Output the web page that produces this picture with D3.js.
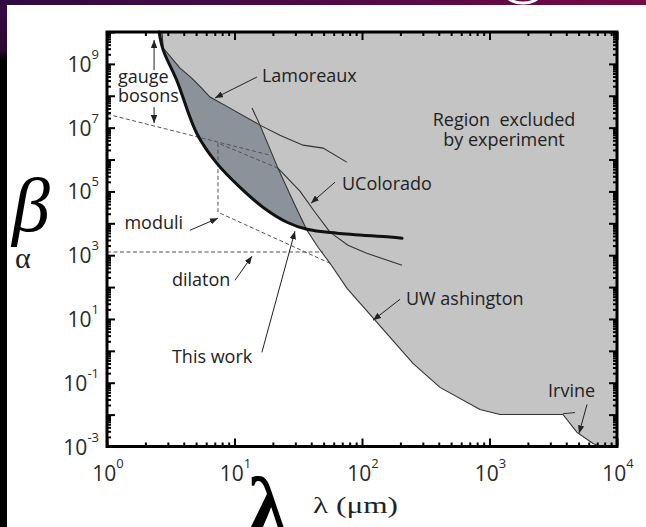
<!DOCTYPE html>
<html>
<head>
<meta charset="utf-8">
<script src="https://cdn.jsdelivr.net/npm/d3@7"></script>
<style>
  body { margin: 0; background: #fff; }
  svg { display: block; }
</style>
</head>
<body>
<svg id="chart" width="646" height="527"></svg>
<script>
// ---- data: λ in µm, α (dimensionless strength) ----
const thisWork = [[2.56,1e10],[2.76,2.7e9],[3.52,3.1e8],[5.05,6.7e6],[7.25,7.7e5],[11,1.36e5],
  [16.7,3.2e4],[25.8,1.08e4],[37,6.5e3],[63.7,4.9e3],[166,3.7e3],[206,3.4e3]];
const lamoreaux = [[2.70,1e10],[2.76,3.15e9],[3.74,7.4e8],[4.62,3.6e8],[5.53,1.75e8],[6.42,9.1e7],
  [9.22,4.1e7],[15.85,1.2e7],[22.7,5.8e6],[34.5,2.83e6],[49.5,2.28e6],[75.9,8.3e5]];
const lamoreauxEdgeEnd = 7;   // index where the UWashington bound takes over
const uWashington = [[13.72,4.11e7],[15.85,1.2e7],[21.9,5.37e5],[29.8,3.7e4],[37.0,6.07e3],[45.2,1.78e3],
  [56.1,558],[76.3,91.6],[131,7.85],[251,0.405],[409,0.0714],[842,0.01455],[1208,0.0101],[3770,0.0101]];
const uColorado = [[21.9,5.37e5],[32.6,1.02e5],[42.8,2.23e4],[56.1,5.26e3],[77.6,2.05e3],[109,1.15e3],[206,483]];
const irvine = [[3770,0.0101],[4856,0.00276],[6486,0.00125],[7400,1e-3]];
const irvineStub = [[3770,0.0107],[4688,0.0117]];
const gaugeBosons = [[1,2.66e7],[18.98,1.37e6]];
const moduli = [[21.9,5.37e5],[7.42,3.27e6],[7.42,2.23e4],[56.1,558]];
const dilaton = [[1,1.26e3],[49.4,1.26e3]];

const xExponents = [0,1,2,3,4];
const yExponents = [-3,-1,1,3,5,7,9];

// annotation labels: text, anchor point [λ, α], text-anchor
const labels = [
  ["gauge", [1.22,2.5e8], "start"],
  ["bosons", [1.22,6.34e7], "start"],
  ["Lamoreaux", [16.4,2.69e8], "start"],
  ["Region  excluded", [1300,1.12e7], "middle"],
  ["by experiment", [1300,2.63e6], "middle"],
  ["UColorado", [69.7,1.09e5], "start"],
  ["moduli", [1.37,6.6e3], "start"],
  ["dilaton", [3.23,106], "start"],
  ["UW ashington", [221,26.9], "start"],
  ["This work", [3.23,0.405], "start"],
  ["Irvine", [2877,0.0347], "start"]
];
// annotation arrows: from [λ, α] to [λ, α]
const arrows = [
  [[2.34,6.4e8],[2.34,5.6e9]],
  [[2.34,4.4e7],[2.34,1.39e7]],
  [[15.0,3.87e8],[7.03,8.5e7]],
  [[61.4,1.95e5],[39.8,4.28e4]],
  [[4.48,6.07e3],[7.42,1.45e4]],
  [[10.09,163],[13.7,927]],
  [[16.4,0.897],[29.8,5.65e3]],
  [[198.7,41.4],[122,9.08]],
  [[5821,0.0209],[5035,0.00257]]
];

const W = 646, H = 527;
const svg = d3.select("#chart");
const x = d3.scaleLog().domain([1, 1e4]).range([107, 617]);
const y = d3.scaleLog().domain([1e-3, 1e10]).range([446.5, 32]);

// ---- page decoration ----
const defs = svg.append("defs");
const gTop = defs.append("linearGradient").attr("id", "band").attr("x1", 0).attr("x2", 1).attr("y1", 0).attr("y2", 0);
gTop.append("stop").attr("offset", 0).attr("stop-color", "#2f0a44");
gTop.append("stop").attr("offset", 0.5).attr("stop-color", "#4f0a46");
gTop.append("stop").attr("offset", 1).attr("stop-color", "#760a44");
const gLeft = defs.append("linearGradient").attr("id", "strip").attr("gradientUnits", "userSpaceOnUse")
  .attr("x1", 0).attr("x2", 0).attr("y1", 0).attr("y2", 60);
gLeft.append("stop").attr("offset", 0).attr("stop-color", "#3a0a48");
gLeft.append("stop").attr("offset", 0.85).attr("stop-color", "#2a0830");
gLeft.append("stop").attr("offset", 1).attr("stop-color", "#000");
svg.append("rect").attr("x", 0).attr("y", 0).attr("width", 7).attr("height", H).attr("fill", "url(#strip)");
svg.append("rect").attr("x", 0).attr("y", 0).attr("width", W).attr("height", 5).attr("fill", "url(#band)");
svg.append("ellipse").attr("cx", 523).attr("cy", -5).attr("rx", 16).attr("ry", 8)
  .attr("fill", "none").attr("stroke", "#fff").attr("stroke-width", 3);

defs.append("marker").attr("id", "head").attr("viewBox", "0 0 10 8")
  .attr("refX", 10).attr("refY", 4).attr("markerWidth", 8).attr("markerHeight", 6.4)
  .attr("markerUnits", "userSpaceOnUse").attr("orient", "auto")
  .append("path").attr("d", "M0,0L10,4L0,8Z").attr("fill", "#222");

const pt = d => [x(d[0]), y(d[1])];
const lineLin = d3.line().x(d => x(d[0])).y(d => y(d[1]));
const lineSmooth = d3.line().x(d => x(d[0])).y(d => y(d[1])).curve(d3.curveCatmullRom.alpha(0.5));

// ---- excluded regions ----
// region newly excluded here: above the thick curve (the lighter region is drawn over it)
const lastWork = thisWork[thisWork.length - 1];
svg.append("path").attr("d", lineSmooth(thisWork) + "L" + pt([1e4, lastWork[1]]).join(",")
    + "L" + pt([1e4, 1e10]).join(",") + "Z")
  .attr("fill", "#8b929a");
// region excluded by earlier experiments
const lightPoly = lamoreaux.slice(0, lamoreauxEdgeEnd + 1)
  .concat(uWashington.slice(2))
  .concat(irvine.slice(1))
  .concat([[1e4, 1e-3], [1e4, 1e10]]);
svg.append("path").attr("d", lineLin(lightPoly) + "Z").attr("fill", "#c4c4c4");

// ---- theory lines (dashed) ----
[gaugeBosons, moduli, dilaton].forEach(s => {
  svg.append("path").attr("d", lineLin(s)).attr("fill", "none")
    .attr("stroke", "#555").attr("stroke-width", 1).attr("stroke-dasharray", "4,2.5");
});

// ---- experimental limits (thin) ----
[lamoreaux, uWashington, uColorado, irvine, irvineStub].forEach(s => {
  svg.append("path").attr("d", lineLin(s)).attr("fill", "none")
    .attr("stroke", "#333").attr("stroke-width", 1.1);
});

// ---- this work (thick) ----
svg.append("path").attr("d", lineSmooth(thisWork)).attr("fill", "none")
  .attr("stroke", "#111").attr("stroke-width", 3).attr("stroke-linecap", "round");

// ---- frame and ticks ----
const majorX = xExponents.map(e => 10 ** e);
const minorX = [];
for (let e = 0; e < 4; e++) for (let k = 2; k <= 9; k++) minorX.push(k * 10 ** e);
const majorY = d3.range(-3, 11).map(e => 10 ** e);
const minorY = [];
for (let e = -3; e < 10; e++) for (let k = 2; k <= 9; k++) minorY.push(k * 10 ** e);

function tickAxis(axisFn, scale, values, size, transform) {
  const g = svg.append("g").attr("transform", transform)
    .call(axisFn(scale).tickValues(values).tickSize(size).tickFormat(""));
  g.select(".domain").remove();
  g.selectAll(".tick line").attr("stroke", "#000").attr("stroke-width", 2);
}
const x0 = x.range()[0], x1 = x.range()[1], yb = y.range()[0], yt = y.range()[1];
tickAxis(d3.axisBottom, x, majorX, -8, `translate(0,${yb})`);
tickAxis(d3.axisBottom, x, minorX, -4, `translate(0,${yb})`);
tickAxis(d3.axisTop, x, majorX, -8, `translate(0,${yt})`);
tickAxis(d3.axisTop, x, minorX, -4, `translate(0,${yt})`);
tickAxis(d3.axisLeft, y, majorY, -8, `translate(${x0},0)`);
tickAxis(d3.axisLeft, y, minorY, -4, `translate(${x0},0)`);
tickAxis(d3.axisRight, y, majorY, -8, `translate(${x1},0)`);
tickAxis(d3.axisRight, y, minorY, -4, `translate(${x1},0)`);

svg.append("rect").attr("x", x0).attr("y", yt).attr("width", x1 - x0).attr("height", yb - yt)
  .attr("fill", "none").attr("stroke", "#000").attr("stroke-width", 3);

// ---- tick labels ----
const tickFont = "'Open Sans', sans-serif";
xExponents.forEach(e => {
  const t = svg.append("text").attr("x", x(10 ** e) + 1).attr("y", yb + 34)
    .attr("text-anchor", "middle").attr("font-family", tickFont).attr("font-size", 21).attr("fill", "#2a2a2a");
  t.append("tspan").text("10");
  t.append("tspan").attr("dy", -13).attr("font-size", 13).text(e);
});
yExponents.forEach(e => {
  const t = svg.append("text").attr("x", 99).attr("y", y(10 ** e) + 8)
    .attr("text-anchor", "end").attr("font-family", tickFont).attr("font-size", 21).attr("fill", "#2a2a2a");
  t.append("tspan").text("10");
  t.append("tspan").attr("dy", -13).attr("font-size", 13).text(e < 0 ? "-" + (-e) : e);
});

// ---- annotations ----
labels.forEach(([txt, p, anchor]) => {
  svg.append("text").attr("x", x(p[0])).attr("y", y(p[1]))
    .attr("text-anchor", anchor).attr("font-family", "'Open Sans', sans-serif")
    .attr("font-size", 18).attr("fill", "#222").style("white-space", "pre").text(txt);
});
arrows.forEach(([a, b]) => {
  svg.append("line").attr("x1", x(a[0])).attr("y1", y(a[1])).attr("x2", x(b[0])).attr("y2", y(b[1]))
    .attr("stroke", "#222").attr("stroke-width", 1).attr("marker-end", "url(#head)");
});

// ---- axis titles ----
svg.append("text").attr("x", 12).attr("y", 231).attr("font-family", "'Liberation Serif', serif")
  .attr("font-style", "italic").attr("font-size", 76).attr("fill", "#000").text("β");
svg.append("text").attr("x", 15).attr("y", 268).attr("font-family", "'Liberation Serif', serif")
  .attr("font-size", 30).attr("fill", "#222").text("α");
svg.append("text").attr("x", 248).attr("y", 533).attr("font-family", "'Liberation Serif', serif")
  .attr("font-weight", "bold").attr("font-size", 80).attr("fill", "#000").text("λ");
svg.append("text").attr("x", 313).attr("y", 513).attr("font-family", "'Liberation Serif', serif")
  .attr("font-size", 24).attr("fill", "#222")
  .attr("textLength", 85).attr("lengthAdjust", "spacingAndGlyphs").text("λ (μm)");
</script>
</body>
</html>
